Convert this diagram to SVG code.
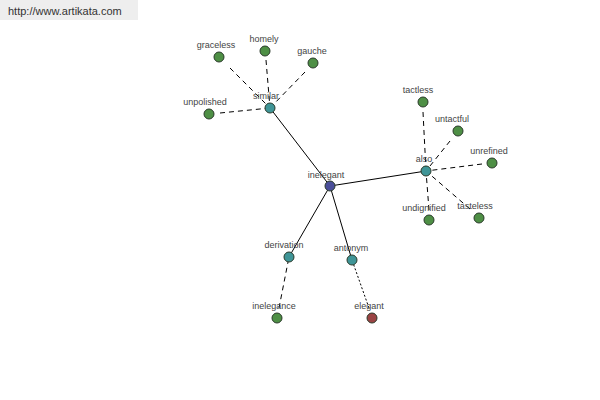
<svg xmlns="http://www.w3.org/2000/svg" width="600" height="400" viewBox="0 0 600 400">
<style>
.lbl{font-family:"Liberation Sans",Arial,sans-serif;font-size:9px;fill:#444;text-anchor:middle}
.e{stroke:#000;stroke-width:1;fill:none}
.d{stroke-dasharray:5,4}
.dt{stroke-dasharray:2,2}
.n{stroke:#2a3a2a;stroke-width:1}
.g{fill:#4e8f45}
.t{fill:#3f9597}
.b{fill:#4a4e9a}
.r{fill:#9a4444}
</style>
<rect x="0" y="0" width="138" height="20" fill="#eeeeee"/>
<text x="8" y="15" font-family="Liberation Sans,Arial,sans-serif" font-size="11" fill="#333">http://www.artikata.com</text>
<g id="connectors">
<line class="e" x1="330" y1="186" x2="270" y2="108"/>
<line class="e" x1="330" y1="186" x2="426" y2="171"/>
<line class="e" x1="330" y1="186" x2="289" y2="257"/>
<line class="e" x1="330" y1="186" x2="352" y2="260"/>
<line class="e d" x1="230" y1="68" x2="270" y2="108"/>
<line class="e d" x1="266" y1="60" x2="270" y2="108"/>
<line class="e d" x1="305" y1="72" x2="270" y2="108"/>
<line class="e d" x1="220" y1="113" x2="270" y2="108"/>
<line class="e d" x1="423" y1="112" x2="426" y2="171"/>
<line class="e d" x1="450" y1="141" x2="426" y2="171"/>
<line class="e d" x1="482" y1="164" x2="426" y2="171"/>
<line class="e d" x1="429" y1="210" x2="426" y2="171"/>
<line class="e d" x1="470" y1="209" x2="426" y2="171"/>
<line class="e d" x1="279" y1="308" x2="289" y2="257"/>
<line class="e dt" x1="369" y1="308" x2="352" y2="260"/>
</g>
<g id="inelegant"><circle class="n b" cx="330" cy="186" r="5"/><text class="lbl" x="326" y="178">inelegant</text></g>
<g id="similar"><circle class="n t" cx="270" cy="108" r="5"/><text class="lbl" x="266" y="99">similar</text></g>
<g id="also"><circle class="n t" cx="426" cy="171" r="5"/><text class="lbl" x="424" y="162">also</text></g>
<g id="derivation"><circle class="n t" cx="289" cy="257" r="5"/><text class="lbl" x="284" y="248">derivation</text></g>
<g id="antonym"><circle class="n t" cx="352" cy="260" r="5"/><text class="lbl" x="351" y="251">antonym</text></g>
<g id="graceless"><circle class="n g" cx="219" cy="57" r="5"/><text class="lbl" x="216" y="48">graceless</text></g>
<g id="homely"><circle class="n g" cx="265" cy="51" r="5"/><text class="lbl" x="264" y="42">homely</text></g>
<g id="gauche"><circle class="n g" cx="313" cy="63" r="5"/><text class="lbl" x="312" y="54">gauche</text></g>
<g id="unpolished"><circle class="n g" cx="209" cy="114" r="5"/><text class="lbl" x="205" y="105">unpolished</text></g>
<g id="tactless"><circle class="n g" cx="423" cy="102" r="5"/><text class="lbl" x="418" y="93">tactless</text></g>
<g id="untactful"><circle class="n g" cx="458" cy="131" r="5"/><text class="lbl" x="452" y="122">untactful</text></g>
<g id="unrefined"><circle class="n g" cx="492" cy="163" r="5"/><text class="lbl" x="489" y="154">unrefined</text></g>
<g id="undignified"><circle class="n g" cx="429" cy="220" r="5"/><text class="lbl" x="424" y="211">undignified</text></g>
<g id="tasteless"><circle class="n g" cx="479" cy="218" r="5"/><text class="lbl" x="475" y="209">tasteless</text></g>
<g id="inelegance"><circle class="n g" cx="277" cy="318" r="5"/><text class="lbl" x="274" y="309">inelegance</text></g>
<g id="elegant"><circle class="n r" cx="372" cy="318" r="5"/><text class="lbl" x="369" y="309">elegant</text></g>
</svg>
